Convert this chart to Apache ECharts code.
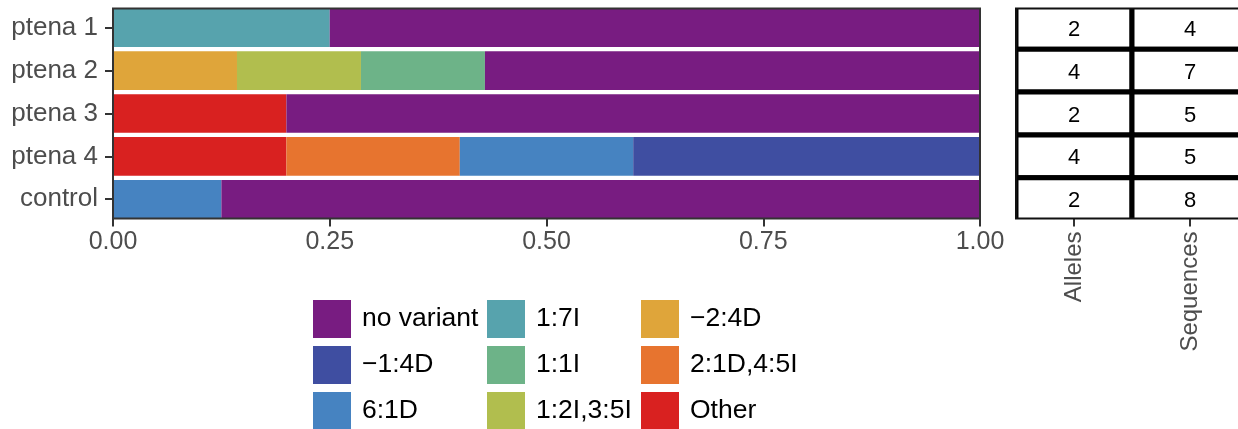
<!DOCTYPE html>
<html>
<head>
<meta charset="utf-8">
<script src="https://cdn.jsdelivr.net/npm/echarts@6/dist/echarts.min.js"></script>
<style>
html,body{margin:0;padding:0;background:#fff;}
#chart{width:1238px;height:429px;}
</style>
</head>
<body>
<div id="chart"></div>
<script>
// ---- data ----
const categories = ['ptena 1', 'ptena 2', 'ptena 3', 'ptena 4', 'control'];
const xTicks = [0, 0.25, 0.5, 0.75, 1];
const seriesNames = ['Other', '2:1D,4:5I', '\u22122:4D', '1:2I,3:5I', '1:1I', '1:7I', '6:1D', '\u22121:4D', 'no variant'];
const valOther      = [0,    0,     0.2, 0.2, 0];
const val2_1D_4_5I  = [0,    0,     0,   0.2, 0];
const valM2_4D      = [0,    0.143, 0,   0,   0];
const val1_2I_3_5I  = [0,    0.143, 0,   0,   0];
const val1_1I       = [0,    0.143, 0,   0,   0];
const val1_7I       = [0.25, 0,     0,   0,   0];
const val6_1D       = [0,    0,     0,   0.2, 0.125];
const valM1_4D      = [0,    0,     0,   0.4, 0];
const valNoVariant  = [0.75, 0.571, 0.8, 0,   0.875];
const tableColumns = ['Alleles', 'Sequences'];
const alleles   = [2, 4, 2, 4, 2];
const sequences = [4, 7, 5, 5, 8];
const legendCol1 = ['no variant', '\u22121:4D', '6:1D'];
const legendCol2 = ['1:7I', '1:1I', '1:2I,3:5I'];
const legendCol3 = ['\u22122:4D', '2:1D,4:5I', 'Other'];

// ---- styling ----
const colors = {
  'Other': '#D92120', '2:1D,4:5I': '#E7742F', '\u22122:4D': '#DFA53A', '1:2I,3:5I': '#B1BE4E',
  '1:1I': '#6DB388', '1:7I': '#57A3AD', '6:1D': '#4683C1', '\u22121:4D': '#3F4EA1', 'no variant': '#781C81'
};
const seriesValues = [valOther, val2_1D_4_5I, valM2_4D, val1_2I_3_5I, val1_1I, val1_7I, val6_1D, valM1_4D, valNoVariant];
const FONT = '"Liberation Sans", Arial, Helvetica, sans-serif';
const AXC = '#4D4D4D';

const panelTop = 8.5, panelH = 210;
const unit = panelH / 4.9;
const gridTop = panelTop - 0.05 * unit;
const gridH = unit * 5;

const barSeries = seriesNames.map((n, i) => ({
  name: n, type: 'bar', stack: 'all', xAxisIndex: 0, yAxisIndex: 0,
  barWidth: '90%', itemStyle: {color: colors[n]},
  data: seriesValues[i], emphasis: {disabled: true}
}));

const tableData = [];
categories.forEach((c, r) => {
  tableData.push([0, r + 1, alleles[r]]);
  tableData.push([1, r + 1, sequences[r]]);
});

function renderCell(params, api) {
  const c = api.coord([api.value(0), api.value(1)]);
  const s = api.size([1, 1]);
  return {
    type: 'group',
    children: [
      {type: 'rect', shape: {x: c[0] - s[0] / 2, y: c[1] - s[1] / 2, width: s[0], height: s[1]},
       style: {fill: '#fff', stroke: '#000', lineWidth: 5}},
      {type: 'text', x: c[0], y: c[1] + 2,
       style: {text: String(api.value(2)), fill: '#000', font: '22px ' + FONT, align: 'center', verticalAlign: 'middle'}}
    ]
  };
}

function legendFor(data, left) {
  return {
    data: data, left: left, top: 300, height: 140, orient: 'vertical', padding: 0,
    itemWidth: 38, itemHeight: 38, itemGap: 8, icon: 'rect', selectedMode: false,
    textStyle: {fontFamily: FONT, fontSize: 26.5, color: '#000', padding: [0, 0, 0, 6]}
  };
}

const chart = echarts.init(document.getElementById('chart'), null, {renderer: 'canvas'});
chart.setOption({
  animation: false,
  textStyle: {fontFamily: FONT},
  grid: [
    {left: 113, top: gridTop, width: 867, height: gridH, outerBoundsMode: 'none', containLabel: false},
    {left: 113, top: panelTop, width: 867, height: panelH, show: true, borderColor: '#333', borderWidth: 2, backgroundColor: 'transparent', z: 10, outerBoundsMode: 'none', containLabel: false},
    {left: 1016, top: panelTop, width: 232, height: panelH, show: true, borderColor: '#111', borderWidth: 2, backgroundColor: 'transparent', z: 10, outerBoundsMode: 'none', containLabel: false}
  ],
  legend: [legendFor(legendCol1, 313), legendFor(legendCol2, 487), legendFor(legendCol3, 641)],
  xAxis: [
    {type: 'value', gridIndex: 0, min: xTicks[0], max: xTicks[xTicks.length - 1], interval: xTicks[1] - xTicks[0],
     offset: -(gridTop + gridH - panelTop - panelH),
     axisLine: {show: false}, splitLine: {show: false},
     axisTick: {show: true, length: 8, lineStyle: {color: '#333', width: 2}},
     axisLabel: {color: AXC, fontSize: 25, fontFamily: FONT, margin: 11, formatter: v => v.toFixed(2)}},
    {type: 'value', gridIndex: 1, show: false, min: 0, max: 1},
    {type: 'category', gridIndex: 2, data: tableColumns, boundaryGap: true,
     axisLine: {show: false}, splitLine: {show: false},
     axisTick: {show: true, alignWithLabel: true, length: 8, lineStyle: {color: '#333', width: 2}},
     axisLabel: {color: AXC, fontSize: 24, fontFamily: FONT, rotate: 90, margin: 13}}
  ],
  yAxis: [
    {type: 'category', gridIndex: 0, data: categories, inverse: true, boundaryGap: true,
     axisLine: {show: false}, splitLine: {show: false},
     axisTick: {show: true, alignWithLabel: true, length: 8, lineStyle: {color: '#333', width: 2}},
     axisLabel: {color: AXC, fontSize: 26, fontFamily: FONT, margin: 15}},
    {type: 'value', gridIndex: 1, show: false, min: 0, max: 1},
    {type: 'value', gridIndex: 2, show: false, min: 0.55, max: 5.45, inverse: true}
  ],
  series: barSeries.concat([{
    type: 'custom', name: 'table', xAxisIndex: 2, yAxisIndex: 2, clip: true,
    encode: {x: 0, y: 1}, data: tableData, renderItem: renderCell, silent: true
  }])
});
</script>
</body>
</html>
